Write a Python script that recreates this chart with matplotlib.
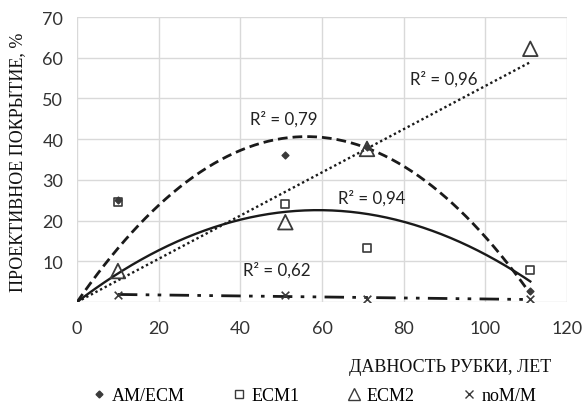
import numpy as np
import matplotlib
matplotlib.use("Agg")
import matplotlib.pyplot as plt
from matplotlib.lines import Line2D

# Данные
years = [10, 51, 71, 111]
am_ecm = [25.0, 36.2, 38.0, 2.7]
ecm1 = [24.5, 24.1, 13.3, 7.9]
ecm2 = [7.6, 19.6, 37.6, 62.2]
nom_m = [1.8, 1.7, 0.7, 0.7]

r2_labels = ["R² = 0,79", "R² = 0,94", "R² = 0,96", "R² = 0,62"]
x_ticks = [0, 20, 40, 60, 80, 100, 120]
y_ticks = [10, 20, 30, 40, 50, 60, 70]

x = np.array(years, dtype=float)


def quad_zero(y):
    # полином 2-й степени с пересечением в нуле (как в Excel)
    A = np.column_stack([x, x ** 2])
    a, b = np.linalg.lstsq(A, np.array(y), rcond=None)[0]
    return lambda t: a * t + b * t ** 2


def lin_zero(y):
    k = np.sum(x * np.array(y)) / np.sum(x ** 2)
    return lambda t: k * t


fig = plt.figure(figsize=(5.84, 4.10), dpi=100)
ax = fig.add_axes([0.132, 0.261, 0.839, 0.695])

ink = "#1a1a1a"
t = np.linspace(0, 111, 200)

ax.plot(t, quad_zero(am_ecm)(t), color=ink, lw=2.0, dashes=(3.5, 1.8))
ax.plot(t, quad_zero(ecm1)(t), color=ink, lw=1.7)
ax.plot(t, lin_zero(ecm2)(t), color=ink, lw=1.7, dashes=(1, 1.2))
p = np.polyfit(x, nom_m, 1)
t2 = np.linspace(10, 111, 100)
ax.plot(t2, np.polyval(p, t2), color=ink, lw=2.0, dashes=(7, 3, 1.3, 3, 1.3, 3))

mk = "#3a3a3a"
ax.scatter(years, ecm1, marker="s", s=30, facecolors="white", edgecolors=mk, linewidths=1.2, zorder=3)
ax.scatter(years, ecm2, marker="^", s=110, facecolors="none", edgecolors=mk, linewidths=1.3, zorder=3)
ax.scatter(years, am_ecm, marker="D", s=12, color=mk, zorder=4)
ax.scatter(years, nom_m, marker="x", s=30, color=mk, linewidths=1.2, zorder=4)

tfont = dict(family="Lato", fontsize=12.2, color="#222222")
ax.text(42.3, 45, r2_labels[0], va="center", **tfont)
ax.text(64, 25.8, r2_labels[1], va="center", **tfont)
ax.text(81.5, 54.8, r2_labels[2], va="center", **tfont)
ax.text(40.7, 8.1, r2_labels[3], va="center", **tfont)

ax.set_xlim(0, 120)
ax.set_ylim(0, 70)
ax.set_xticks(x_ticks)
ax.set_yticks(y_ticks)
ax.grid(True, color="#d9d9d9", lw=1.0)
ax.set_axisbelow(True)
for s in ax.spines.values():
    s.set_visible(False)
ax.axhline(0, color="#d9d9d9", lw=1.0, zorder=0)
ax.tick_params(length=0, labelsize=13, labelcolor="#333333")
ax.tick_params(axis="y", pad=10)
ax.tick_params(axis="x", pad=13)
for lab in ax.get_xticklabels() + ax.get_yticklabels():
    lab.set_family("Lato")

fig.text(0.03, 0.605, "ПРОЕКТИВНОЕ ПОКРЫТИЕ, %", rotation=90, ha="center", va="center",
         family="Liberation Serif", fontsize=13, color="#111111")
fig.text(0.771, 0.104, "ДАВНОСТЬ РУБКИ, ЛЕТ", ha="center", va="center",
         family="Liberation Serif", fontsize=13, color="#111111")

handles = [
    Line2D([], [], ls="none", marker="D", ms=3.5, color=mk),
    Line2D([], [], ls="none", marker="s", ms=5.5, mfc="white", mec=mk),
    Line2D([], [], ls="none", marker="^", ms=9, mfc="none", mec=mk),
    Line2D([], [], ls="none", marker="x", ms=5.5, color=mk),
]
fig.legend(handles, ["AM/ECM", "ECM1", "ECM2", "noM/M"], loc="center", bbox_to_anchor=(0.538, 0.032),
           ncol=4, frameon=False, handlelength=0.8, handletextpad=0.3, columnspacing=2.6,
           prop={"family": "Liberation Serif", "size": 13})

fig.savefig("out.png", dpi=100)
